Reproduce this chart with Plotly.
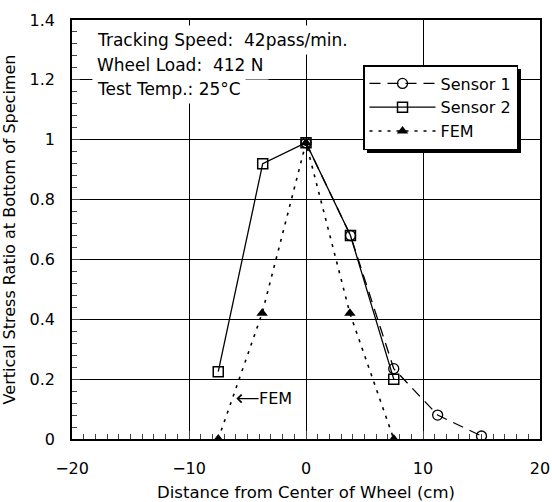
import plotly.graph_objects as go

# Data
s1_x = [0, 3.8, 7.5, 11.25, 15]
s1_y = [0.99, 0.68, 0.235, 0.08, 0.01]
s2_x = [-7.5, -3.7, 0, 3.8, 7.5]
s2_y = [0.225, 0.92, 0.99, 0.68, 0.2]
fem_x = [-7.5, -3.75, 0, 3.75, 7.5]
fem_y = [0.0, 0.42, 0.99, 0.42, 0.0]

x_ticks = [-20, -10, 0, 10, 20]
y_ticks = [0, 0.2, 0.4, 0.6, 0.8, 1.0, 1.2, 1.4]
y_tick_text = ["0", "0.2", "0.4", "0.6", "0.8", "1", "1.2", "1.4"]

FONT = "DejaVu Sans, sans-serif"

fig = go.Figure()
fig.add_trace(go.Scatter(x=s1_x, y=s1_y, name="Sensor 1", mode="lines+markers",
                         line=dict(color="black", width=1.3, dash="11px,7px"),
                         marker=dict(symbol="circle-open", size=10, color="black", line=dict(width=1.3))))
fig.add_trace(go.Scatter(x=s2_x, y=s2_y, name="Sensor 2", mode="lines+markers",
                         line=dict(color="black", width=1.3),
                         marker=dict(symbol="square-open", size=10, color="black", line=dict(width=1.5))))
fig.add_trace(go.Scatter(x=fem_x, y=fem_y, name="FEM", mode="lines+markers",
                         line=dict(color="black", width=1.6, dash="3px,6px"),
                         marker=dict(symbol="triangle-up", size=10, color="black")))

W, H = 552, 502
L, R, T, B = 72, 12, 20, 63
pw, ph = W - L - R, H - T - B

def px_x(p):
    return (p - L) / pw

def px_y(p):
    return 1 - (p - T) / ph

lines = ["Tracking Speed:  42pass/min.", "Wheel Load:  412 N", "Test Temp.: 25°C"]
centers = [40, 65, 89]
for txt, cy in zip(lines, centers):
    fig.add_annotation(text=txt, xref="paper", yref="paper", x=px_x(92), y=px_y(cy),
                       xanchor="left", yanchor="middle", showarrow=False,
                       bgcolor="white", borderpad=4, font=dict(size=17, color="black", family=FONT))

fig.add_annotation(text="FEM", xref="x", yref="y", x=-5.95, y=0.135, axref="x", ayref="y",
                   ax=-2.6, ay=0.135, showarrow=True, arrowhead=4, arrowsize=1.3, arrowwidth=1.2,
                   arrowcolor="black", standoff=0, borderpad=0,
                   font=dict(size=16, color="black", family=FONT))

# legend drop shadow (drawn behind the legend box)
lg_l, lg_t, lg_r, lg_b = 363, 65, 518, 150
fig.add_shape(type="rect", xref="paper", yref="paper", layer="above",
              x0=px_x(lg_l + 4), x1=px_x(lg_r + 3), y0=px_y(lg_b + 3), y1=px_y(lg_t + 4),
              fillcolor="black", line=dict(width=0))

fig.update_layout(
    width=W, height=H, margin=dict(l=L, r=R, t=T, b=B),
    paper_bgcolor="white", plot_bgcolor="white",
    font=dict(family=FONT, size=16, color="black"),
    showlegend=True,
    legend=dict(x=px_x(lg_l), y=px_y(lg_t), xanchor="left", yanchor="top",
                bgcolor="white", bordercolor="black", borderwidth=1.5,
                font=dict(size=16, family=FONT), itemwidth=66, tracegroupgap=0),
    xaxis=dict(range=[-20, 20], tickvals=x_ticks, ticks="inside", ticklen=8, tickwidth=1.3,
               minor=dict(ticks="inside", ticklen=5, dtick=1, tickwidth=1.2, showgrid=False),
               showgrid=True, gridcolor="black", gridwidth=1.3, zeroline=False,
               showline=True, linecolor="black", linewidth=1.5, mirror=True, automargin=False,
               ticklabelstandoff=14, tickfont=dict(size=16),
               title=dict(text="Distance from Center of Wheel (cm)", standoff=17, font=dict(size=16.5))),
    yaxis=dict(range=[0, 1.4], tickvals=y_ticks, ticktext=y_tick_text, ticks="inside", ticklen=8, tickwidth=1.3,
               minor=dict(ticks="inside", ticklen=5, dtick=0.04, tick0=0, tickwidth=1.2, showgrid=False),
               showgrid=True, gridcolor="black", gridwidth=1.3, zeroline=False,
               showline=True, linecolor="black", linewidth=1.5, mirror=True, automargin=False,
               ticklabelstandoff=12, tickfont=dict(size=16),
               title=dict(text="Vertical Stress Ratio at Bottom of Specimen", standoff=10, font=dict(size=16))),
)

fig.write_html("out.html")
